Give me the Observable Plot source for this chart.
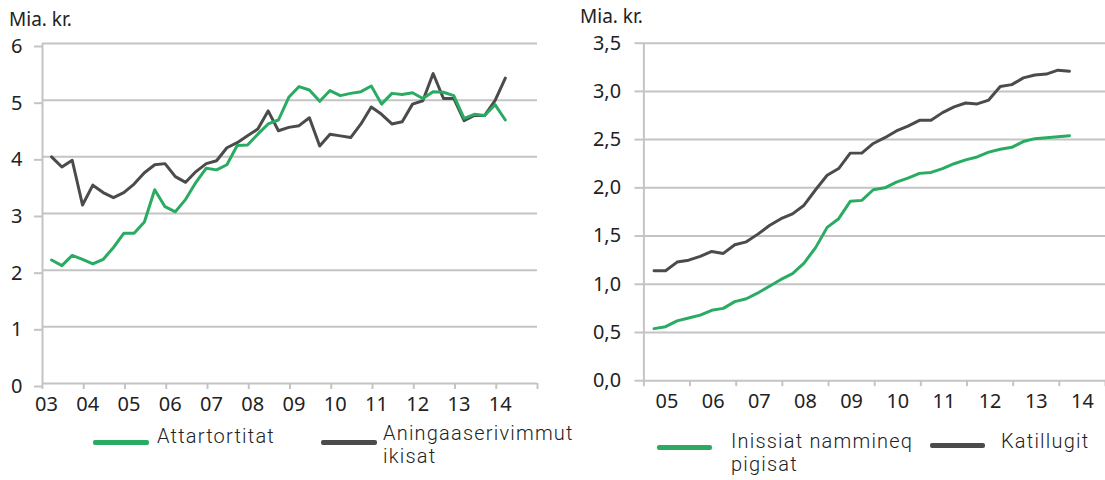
<!DOCTYPE html>
<html>
<head>
<meta charset="utf-8">
<script src="https://cdn.jsdelivr.net/npm/d3@7"></script>
<script src="https://cdn.jsdelivr.net/npm/@observablehq/plot@0.6"></script>
<style>
  html, body { margin: 0; padding: 0; background: #fff; overflow: hidden; }
  #wrap { position: relative; width: 1105px; height: 480px; overflow: hidden; font-family: "Noto Sans", "DejaVu Sans", sans-serif; color: #222; }
  .chart { position: absolute; top: 0; }
  .unit { position: absolute; font-size: 19px; color: #222; line-height: 19px; }
  .leg { position: absolute; font-family: "Roboto", sans-serif; font-weight: 300; font-size: 20px; letter-spacing: 1.2px; color: #222; line-height: 23px; white-space: nowrap; }
  .sw { position: absolute; height: 5px; border-radius: 2px; }
</style>
</head>
<body>
<div id="wrap">
  <div id="left" class="chart" style="left:0"></div>
  <div id="right" class="chart" style="left:560px"></div>
  <div class="unit" style="left:9px; top:10px">Mia. kr.</div>
  <div class="unit" style="left:580px; top:7px">Mia. kr.</div>
</div>
<script>
// ---- Data ----
// Left chart: quarterly, 2003 Q1 – 2014 Q1 (Mia. kr.)
const leftStart = 2003;
const leftYears = [2003, 2004, 2005, 2006, 2007, 2008, 2009, 2010, 2011, 2012, 2013, 2014];
const attartortitat = [2.18,2.08,2.26,2.19,2.11,2.19,2.40,2.65,2.65,2.85,3.42,3.12,3.03,3.25,3.55,3.80,3.77,3.86,4.20,4.21,4.40,4.58,4.65,5.05,5.24,5.18,4.98,5.17,5.08,5.12,5.15,5.25,4.93,5.12,5.10,5.13,5.03,5.15,5.14,5.08,4.68,4.75,4.73,4.92,4.65];
const aningaaserivimmut = [4.00,3.82,3.94,3.15,3.50,3.37,3.28,3.37,3.52,3.72,3.86,3.88,3.65,3.55,3.74,3.88,3.93,4.16,4.25,4.37,4.49,4.81,4.46,4.52,4.55,4.69,4.19,4.40,4.37,4.34,4.58,4.88,4.75,4.58,4.62,4.93,4.99,5.47,5.03,5.03,4.64,4.73,4.73,4.99,5.39];
const leftTicksY = [0, 1, 2, 3, 4, 5, 6];

// Right chart: quarterly, 2005 Q1 – 2014 Q1 (Mia. kr.)
const rightStart = 2005;
const rightYears = [2005, 2006, 2007, 2008, 2009, 2010, 2011, 2012, 2013, 2014];
const inissiat = [0.54,0.56,0.62,0.65,0.68,0.73,0.75,0.82,0.85,0.91,0.98,1.05,1.11,1.22,1.38,1.59,1.68,1.86,1.87,1.98,2.00,2.06,2.10,2.15,2.16,2.20,2.25,2.29,2.32,2.37,2.40,2.42,2.48,2.51,2.52,2.53,2.54];
const katillugit = [1.14,1.14,1.23,1.25,1.29,1.34,1.32,1.41,1.44,1.52,1.61,1.68,1.73,1.82,1.98,2.13,2.20,2.36,2.36,2.46,2.52,2.59,2.64,2.70,2.70,2.78,2.84,2.88,2.87,2.91,3.05,3.07,3.14,3.17,3.18,3.22,3.21];
const rightTicksY = [0, 0.5, 1, 1.5, 2, 2.5, 3, 3.5];

const GREEN = "#2aab62";
const DARK = "#4b4b4b";
const GRID = "#c4c4c4";

// quarter i -> fractional year (points plotted near quarter end)
const toRows = (start, vals) => vals.map((v, i) => ({t: start + 0.22 + i * 0.25, v}));
const yy = d => String(d % 100).padStart(2, "0");

const left = Plot.plot({
  width: 560, height: 420,
  marginLeft: 42, marginRight: 23, marginTop: 43, marginBottom: 37,
  style: {fontFamily: "'Noto Sans', 'DejaVu Sans', sans-serif", fontSize: "20px", color: "#222", background: "transparent"},
  x: {domain: [2003, 2015]},
  y: {domain: [0, 6]},
  marks: [
    Plot.gridY({ticks: leftTicksY, stroke: GRID, strokeOpacity: 1, strokeWidth: 2}),
    Plot.axisY({ticks: leftTicksY, tickSize: 8, tickPadding: 12, stroke: GRID, strokeWidth: 2, strokeOpacity: 1, fontSize: 20, dy: 3, label: null, tickFormat: d => String(d)}),
    Plot.ruleX([2003], {stroke: GRID, strokeWidth: 2}),
    Plot.axisX({ticks: [...leftYears, 2015], tickSize: 6, stroke: GRID, strokeWidth: 2, strokeOpacity: 1, tickFormat: () => "", label: null}),
    Plot.axisX({ticks: leftYears, tickSize: 0, tickPadding: 13, dx: 4, fontSize: 20, tickFormat: yy, label: null}),
    Plot.line(toRows(leftStart, aningaaserivimmut), {x: "t", y: "v", stroke: DARK, strokeWidth: 3}),
    Plot.line(toRows(leftStart, attartortitat), {x: "t", y: "v", stroke: GREEN, strokeWidth: 3})
  ]
});
document.getElementById("left").appendChild(left);

const right = Plot.plot({
  width: 549, height: 420,
  marginLeft: 84, marginRight: 0, marginTop: 43, marginBottom: 37,
  style: {fontFamily: "'Noto Sans', 'DejaVu Sans', sans-serif", fontSize: "20px", color: "#222", background: "transparent", overflow: "visible"},
  x: {domain: [2005, 2015]},
  y: {domain: [0, 3.5]},
  marks: [
    Plot.gridY({ticks: rightTicksY, stroke: GRID, strokeOpacity: 1, strokeWidth: 2}),
    Plot.axisY({ticks: rightTicksY, tickSize: 9, tickPadding: 14, stroke: GRID, strokeWidth: 2, strokeOpacity: 1, fontSize: 20, label: null, tickFormat: d => d.toFixed(1).replace(".", ",")}),
    Plot.ruleX([2005], {stroke: GRID, strokeWidth: 2}),
    Plot.axisX({ticks: [...rightYears, 2015], tickSize: 6, stroke: GRID, strokeWidth: 2, strokeOpacity: 1, tickFormat: () => "", label: null}),
    Plot.axisX({ticks: rightYears.map(y => y + 0.5), tickSize: 0, tickPadding: 13, fontSize: 20, tickFormat: d => yy(Math.floor(d)), label: null}),
    Plot.line(toRows(rightStart, katillugit), {x: "t", y: "v", stroke: DARK, strokeWidth: 3}),
    Plot.line(toRows(rightStart, inissiat), {x: "t", y: "v", stroke: GREEN, strokeWidth: 3})
  ]
});
document.getElementById("right").appendChild(right);

// ---- Legends (HTML) ----
const wrap = document.getElementById("wrap");
const legends = [
  {color: GREEN, x1: 93, x2: 149, ly: 442, tx: 157, ty: 425, text: "Attartortitat"},
  {color: DARK, x1: 321, x2: 377, ly: 442, tx: 383, ty: 422, text: "Aningaaserivimmut<br>ikisat"},
  {color: GREEN, x1: 657, x2: 712, ly: 447, tx: 731, ty: 430, text: "Inissiat nammineq<br>pigisat"},
  {color: DARK, x1: 930, x2: 985, ly: 445, tx: 1001, ty: 430, text: "Katillugit"}
];
for (const l of legends) {
  const s = document.createElement("div");
  s.className = "sw";
  s.style.left = l.x1 + "px"; s.style.width = (l.x2 - l.x1) + "px";
  s.style.top = (l.ly - 2.5) + "px"; s.style.background = l.color;
  wrap.appendChild(s);
  const t = document.createElement("div");
  t.className = "leg";
  t.style.left = l.tx + "px"; t.style.top = l.ty + "px";
  t.innerHTML = l.text;
  wrap.appendChild(t);
}
</script>
</body>
</html>
